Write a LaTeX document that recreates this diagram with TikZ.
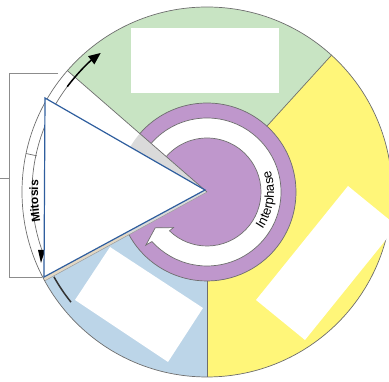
\documentclass[tikz,border=0pt]{standalone}
\usepackage{fontspec}
\setmainfont{Liberation Sans}
\usetikzlibrary{decorations.text,arrows.meta}
\definecolor{cgreen}{HTML}{C8E4C3}
\definecolor{cyellow}{HTML}{FFF679}
\definecolor{cblue}{HTML}{BCD5E8}
\definecolor{cpurple}{HTML}{BF97CC}
\definecolor{cgrey}{HTML}{DADADA}
\definecolor{cline}{HTML}{6E6E6E}
\definecolor{ctri}{HTML}{2F5E9E}
\definecolor{cbrack}{HTML}{8C8C8C}
\definecolor{ctan}{HTML}{E3D8C4}
\begin{document}
\begin{tikzpicture}[x=1pt,y=1pt,
  sectline/.style={cline,line width=0.7pt},
  blackarc/.style={black,line width=1.5pt},
  whitebox/.style={fill=white,draw=none},
  bracketline/.style={cbrack,line width=0.9pt}]
\useasboundingbox (0,0) rectangle (389,382);
\clip (0,0) rectangle (389,382);
\begin{scope}[shift={(207,190)}]
  % sectors
  \fill[cgreen] (0,0) -- (47.7:185pt) arc[start angle=47.7,end angle=139,radius=185pt] -- cycle;
  \fill[cyellow] (0,0) -- (-90:185pt) arc[start angle=-90,end angle=47.7,radius=185pt] -- cycle;
  \fill[ctan] (0,0) -- (207:185pt) arc[start angle=207,end angle=208.7,radius=185pt] -- cycle;
  \fill[cblue] (0,0) -- (208.7:185pt) arc[start angle=208.7,end angle=270,radius=185pt] -- cycle;
  % purple rings
  \fill[cpurple] (0,0) -- (-151.3:89pt) arc[start angle=-151.3,end angle=139,radius=89pt] -- cycle;
  \fill[white] (139:74pt) arc[start angle=139,end angle=-138,radius=74pt]
     -- (-139:81pt) -- (-145.3:63pt) -- (-133.4:49pt) -- (-134:54pt)
     arc[start angle=-134,end angle=139,radius=54pt] -- cycle;
  \draw[sectline] (139:74pt) arc[start angle=139,end angle=-138,radius=74pt]
     -- (-139:81pt) -- (-145.3:63pt) -- (-133.4:49pt) -- (-134:54pt)
     arc[start angle=-134,end angle=139,radius=54pt];
  \fill[cgrey] (0,0) -- (139:89pt) arc[start angle=139,end angle=208.7,radius=89pt] -- cycle;
  \draw[sectline] (139:89pt) arc[start angle=139,end angle=-151.3,radius=89pt];
  % boundaries
  \draw[sectline] (0,0) -- (139:185pt);
  \draw[sectline] (47.7:89pt) -- (47.7:185pt);
  \draw[sectline] (-90:89pt) -- (-90:185pt);
  \draw[cline!70,line width=0.5pt] (0,0) -- (208.7:185pt);
  \draw[sectline] (0,0) circle[radius=185pt];
  % mitosis band
  \draw[sectline] (139:175pt) arc[start angle=139,end angle=207.6,radius=175pt];
  \draw[sectline] (168:174pt) -- (168:185pt);
  % arrows on the rim
  \draw[blackarc,-{Triangle[length=12pt,width=10pt]}] (143:175pt) arc[start angle=143,end angle=127.4,radius=175pt];
  \draw[blackarc,black!80] (209:175pt) arc[start angle=209,end angle=219,radius=175pt];
  % texts
  \path[decorate,decoration={text along path,text align=center,
     text={|\fontsize{13}{13}\selectfont|Interphase}}]
     (-45:67pt) arc[start angle=-45,end angle=30,radius=67pt];
  \path[decorate,decoration={text along path,text align=center,
     text={|\bfseries\fontsize{12}{12}\selectfont|Mitosis}}]
     (200:169pt) arc[start angle=200,end angle=166,radius=169pt];
\end{scope}
% small black arrowhead at left
\fill[black] (38,132) -- (45,132) -- (41,119) -- cycle;
% overlay triangle
\draw[ctri,line width=1.2pt,fill=white] (45,284) -- (44,105) -- (205,192) -- cycle;
% white boxes
\fill[whitebox] (131,289) rectangle (279,354);
\fill[whitebox] (256,82) -- (348,196) -- (397,156) -- (305,42) -- cycle;
\fill[whitebox] (110,135) -- (203,74) -- (168,20) -- (75,82) -- cycle;
% bracket
\draw[bracketline] (58,309) -- (9,309) -- (9,105) -- (42,105);
\draw[bracketline] (0,204) -- (9,204);
\end{tikzpicture}
\end{document}
